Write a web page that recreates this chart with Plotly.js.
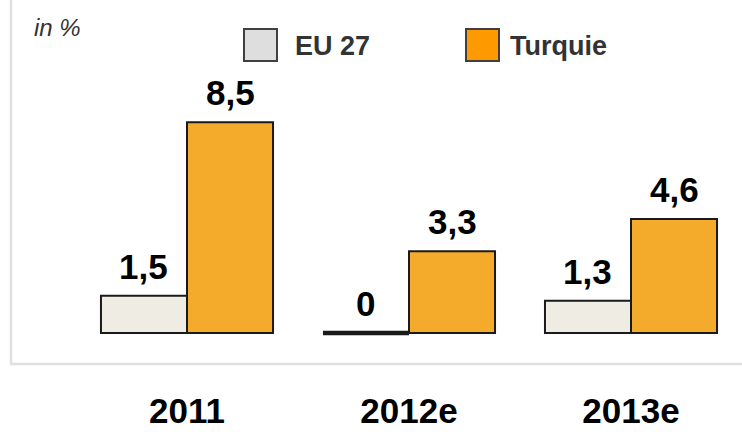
<!DOCTYPE html>
<html>
<head>
<meta charset="utf-8">
<script src="https://cdn.plot.ly/plotly-3.0.1.min.js"></script>
<style>
html,body{margin:0;padding:0;background:#fff;}
#chart{width:742px;height:432px;}
</style>
</head>
<body>
<div id="chart"></div>
<script>
// ---- data ----
var categories = ["2011", "2012e", "2013e"];
var euValues = [1.5, 0, 1.3];
var turValues = [8.5, 3.3, 4.6];
var seriesNames = ["EU 27", "Turquie"];
var unitLabel = "in %";

// ---- styling ----
var W = 742, H = 432;
var yMin = -0.2, yMax = 10;
var mL = 76, mR = 0, mT = 85, mB = 94;
var pw = W - mL - mR, ph = H - mT - mB;
var bargap = 0.225;
var half = (1 - bargap) / 2;        // width of one bar in axis units
var euFill = "#eeece3", turFill = "#f4ab2c";
var edge = "#1a1a1a";
var FONT = "Liberation Sans, Arial, sans-serif";

function px2x(px){ return (px - mL) / pw; }
function py2y(py){ return (H - mB - py) / ph; }

var idx = categories.map(function(_, i){ return i; });
function fmt(v){ return String(v).replace(".", ","); }

var traces = [
  {type:"bar", name:seriesNames[0], x:idx, y:euValues,
   marker:{color:euFill, line:{color:edge, width:2}}, showlegend:false, hoverinfo:"skip"},
  {type:"bar", name:seriesNames[1], x:idx, y:turValues,
   marker:{color:turFill, line:{color:edge, width:2}}, showlegend:false, hoverinfo:"skip"}
];

var annotations = [];
var shapes = [];
[euValues, turValues].forEach(function(vals, s){
  vals.forEach(function(v, i){
    var xc = i + (s === 0 ? -half/2 : half/2);
    annotations.push({x:xc, y:v, xref:"x", yref:"y", text:"<b>"+fmt(v)+"</b>",
      showarrow:false, yanchor:"bottom", yshift:8,
      font:{family:FONT, size:35, color:"#000"}});
    if (v === 0) {
      shapes.push({type:"line", xref:"x", yref:"y",
        x0:i + (s === 0 ? -half : 0), x1:i + (s === 0 ? 0 : half), y0:0, y1:0,
        line:{color:edge, width:4.5}});
    }
  });
});

// frame (light grey left & bottom border)
shapes.push({type:"line", xref:"paper", yref:"paper", x0:px2x(11), x1:px2x(11), y0:py2y(364), y1:py2y(-5),
  line:{color:"#e0e0e0", width:2.5}});
shapes.push({type:"line", xref:"paper", yref:"paper", x0:px2x(10), x1:px2x(750), y0:py2y(364), y1:py2y(364),
  line:{color:"#e0e0e0", width:2.5}});

// legend (drawn)
var legendItems = [
  {name:seriesNames[0], fill:"#dedede", bx:244, tx:293},
  {name:seriesNames[1], fill:"#ff9900", bx:466, tx:508}
];
legendItems.forEach(function(it){
  shapes.push({type:"rect", xref:"paper", yref:"paper",
    x0:px2x(it.bx), x1:px2x(it.bx+33), y0:py2y(61), y1:py2y(29),
    fillcolor:it.fill, line:{color:"#404040", width:2}});
  annotations.push({xref:"paper", yref:"paper", x:px2x(it.tx), y:py2y(46),
    xanchor:"left", yanchor:"middle", showarrow:false, text:"<b>"+it.name+"</b>",
    font:{family:FONT, size:27, color:"#333"}});
});
annotations.push({xref:"paper", yref:"paper", x:px2x(32), y:py2y(27),
  xanchor:"left", yanchor:"middle", showarrow:false, text:"<i>"+unitLabel+"</i>",
  font:{family:FONT, size:24, color:"#333"}});

var layout = {
  width:W, height:H,
  margin:{l:mL, r:mR, t:mT, b:mB, pad:0},
  paper_bgcolor:"#fff", plot_bgcolor:"rgba(0,0,0,0)",
  barmode:"group", bargap:bargap, bargroupgap:0,
  xaxis:{range:[-0.5, 2.5], tickmode:"array", tickvals:idx, ticktext:categories.map(function(c){return "<b>"+c+"</b>";}),
    ticks:"outside", ticklen:42, tickcolor:"rgba(0,0,0,0)", showgrid:false, zeroline:false, showline:false,
    tickfont:{family:FONT, size:35, color:"#000"}, fixedrange:true},
  yaxis:{range:[yMin, yMax], showgrid:false, zeroline:false, showline:false, showticklabels:false, ticks:"", fixedrange:true},
  showlegend:false,
  shapes:shapes,
  annotations:annotations
};

Plotly.newPlot("chart", traces, layout, {displayModeBar:false, staticPlot:true});
</script>
</body>
</html>
